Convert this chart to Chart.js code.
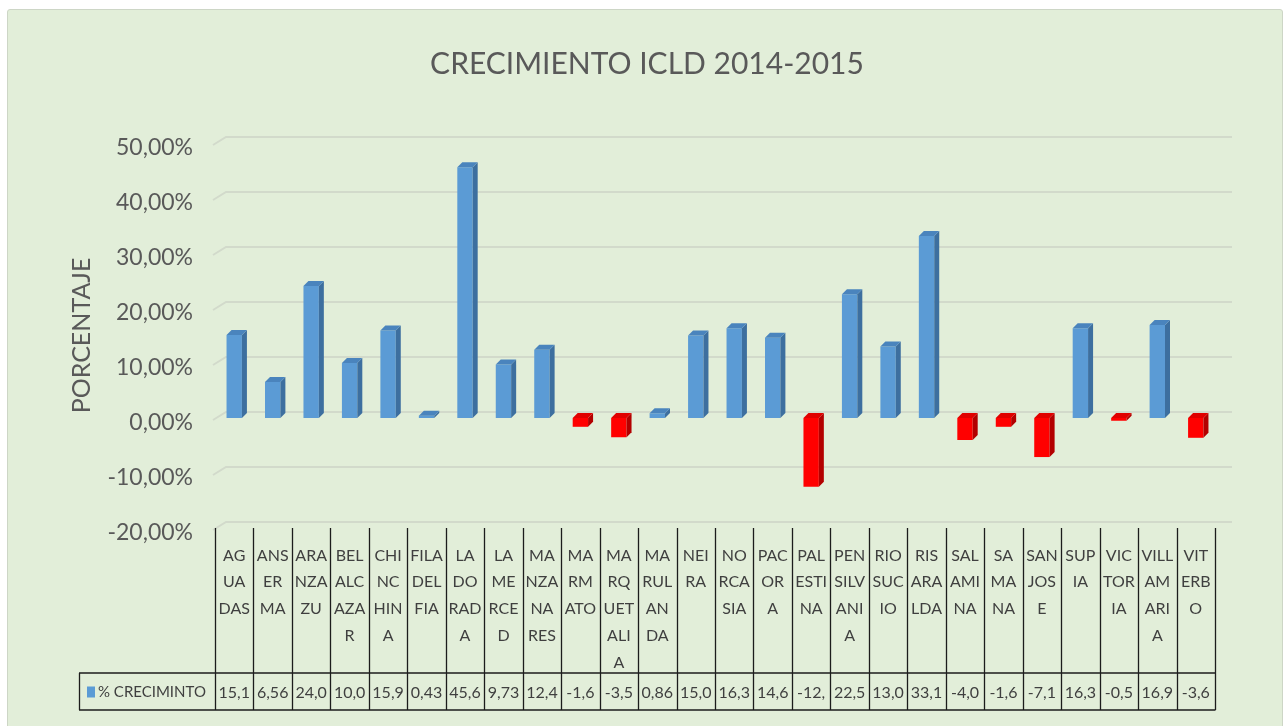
<!DOCTYPE html>
<html>
<head>
<meta charset="utf-8">
<title>Crecimiento ICLD 2014-2015</title>
<script src="https://cdn.jsdelivr.net/npm/chart.js@4.4.1/dist/chart.umd.min.js"></script>
<style>
  html, body { margin: 0; padding: 0; background: #fff; overflow: hidden; }
  #marco { position: absolute; left: 7px; top: 9px; width: 1274px; height: 720px; background: #e2eed9; border: 1px solid #cdd6c6; border-radius: 3px; }
  #grafico { position: absolute; left: 0; top: 0; }
</style>
</head>
<body>
<div id="marco"></div>
<canvas id="grafico" width="1288" height="726"></canvas>
<script>
// Municipios (nombre completo)
const categorias = ['AGUADAS', 'ANSERMA', 'ARANZAZU', 'BELALCAZAR', 'CHINCHINA', 'FILADELFIA', 'LA DORADA',
    'LA MERCED', 'MANZANARES', 'MARMATO', 'MARQUETALIA', 'MARULANDA', 'NEIRA', 'NORCASIA', 'PACORA',
    'PALESTINA', 'PENSILVANIA', 'RIOSUCIO', 'RISARALDA', 'SALAMINA', 'SAMANA', 'SANJOSE', 'SUPIA',
    'VICTORIA', 'VILLAMARIA', 'VITERBO'];

// Nombres partidos como aparecen en la tabla
const lineasCategorias = [
    ['AG', 'UA', 'DAS'], ['ANS', 'ER', 'MA'], ['ARA', 'NZA', 'ZU'], ['BEL', 'ALC', 'AZA', 'R'],
    ['CHI', 'NC', 'HIN', 'A'], ['FILA', 'DEL', 'FIA'], ['LA', 'DO', 'RAD', 'A'], ['LA', 'ME', 'RCE', 'D'],
    ['MA', 'NZA', 'NA', 'RES'], ['MA', 'RM', 'ATO'], ['MA', 'RQ', 'UET', 'ALI', 'A'], ['MA', 'RUL', 'AN', 'DA'],
    ['NEI', 'RA'], ['NO', 'RCA', 'SIA'], ['PAC', 'OR', 'A'], ['PAL', 'ESTI', 'NA'], ['PEN', 'SILV', 'ANI', 'A'],
    ['RIO', 'SUC', 'IO'], ['RIS', 'ARA', 'LDA'], ['SAL', 'AMI', 'NA'], ['SA', 'MA', 'NA'], ['SAN', 'JOS', 'E'],
    ['SUP', 'IA'], ['VIC', 'TOR', 'IA'], ['VILL', 'AM', 'ARI', 'A'], ['VIT', 'ERB', 'O']
];

// % crecimiento por municipio
const crecimiento = [15.1, 6.56, 24.0, 10.0, 15.9, 0.43, 45.6, 9.73, 12.4, -1.6, -3.5, 0.86, 15.0,
    16.3, 14.6, -12.5, 22.5, 13.0, 33.1, -4.0, -1.6, -7.1, 16.3, -0.5, 16.9, -3.6];

// Texto de la fila de valores (recortado como en la tabla original)
const etiquetasTabla = ['15,1', '6,56', '24,0', '10,0', '15,9', '0,43', '45,6', '9,73', '12,4', '-1,6',
    '-3,5', '0,86', '15,0', '16,3', '14,6', '-12,', '22,5', '13,0', '33,1', '-4,0', '-1,6', '-7,1',
    '16,3', '-0,5', '16,9', '-3,6'];

const ejeYMin = -20;
const ejeYMax = 50;
const pasoY = 10;

const FUENTE = "Lato, 'Open Sans', sans-serif";
const AZUL = '#5b9bd5';
const ROJO = '#ff0000';

// Rejilla con el pequeño efecto 3D de Excel
const rejilla3D = {
    id: 'rejilla3D',
    beforeDatasetsDraw(chart) {
        const { ctx, chartArea, scales: { y } } = chart;
        ctx.save();
        ctx.strokeStyle = '#d2dacb';
        ctx.lineWidth = 2;
        y.ticks.forEach(t => {
            const py = y.getPixelForValue(t.value) - 6;
            ctx.beginPath();
            ctx.moveTo(chartArea.left - 2, py + 8);
            ctx.lineTo(chartArea.left + 11, py);
            ctx.lineTo(chartArea.right + 17, py);
            ctx.stroke();
        });
        ctx.restore();
    }
};

// Caras laterales y superiores de las columnas
const columnas3D = {
    id: 'columnas3D',
    afterDatasetsDraw(chart) {
        const { ctx } = chart;
        const meta = chart.getDatasetMeta(0);
        const d = 5;
        ctx.save();
        meta.data.forEach((bar, i) => {
            const p = bar.getProps(['x', 'y', 'base', 'width'], true);
            const izq = p.x - p.width / 2;
            const der = p.x + p.width / 2;
            const arriba = Math.min(p.y, p.base);
            const abajo = Math.max(p.y, p.base);
            const negativo = crecimiento[i] < 0;
            // lado
            ctx.fillStyle = negativo ? '#b30000' : '#3d6f9f';
            ctx.beginPath();
            ctx.moveTo(der, arriba);
            ctx.lineTo(der + d, arriba - d);
            ctx.lineTo(der + d, abajo - d);
            ctx.lineTo(der, abajo);
            ctx.closePath();
            ctx.fill();
            // tapa
            ctx.fillStyle = negativo ? '#e00000' : '#4a84bd';
            ctx.beginPath();
            ctx.moveTo(izq, arriba);
            ctx.lineTo(izq + d, arriba - d);
            ctx.lineTo(der + d, arriba - d);
            ctx.lineTo(der, arriba);
            ctx.closePath();
            ctx.fill();
        });
        ctx.restore();
    }
};

// Tabla de datos bajo el eje
const tablaDatos = {
    id: 'tablaDatos',
    afterDraw(chart) {
        const { ctx, chartArea, scales: { x } } = chart;
        const ancho = (chartArea.right - chartArea.left) / categorias.length;
        const arriba = x.top;
        const filaArriba = arriba + 145;
        const filaAbajo = arriba + 182;
        const izquierda = 79;
        ctx.save();
        ctx.strokeStyle = '#1c1c1c';
        ctx.lineWidth = 1.3;
        ctx.beginPath();
        for (let i = 0; i <= categorias.length; i++) {
            const px = Math.round(chartArea.left + i * ancho) + 0.5;
            ctx.moveTo(px, arriba);
            ctx.lineTo(px, filaAbajo);
        }
        ctx.moveTo(izquierda, filaArriba);
        ctx.lineTo(chartArea.right + 0.5, filaArriba);
        ctx.moveTo(izquierda, filaAbajo);
        ctx.lineTo(chartArea.right + 0.5, filaAbajo);
        ctx.moveTo(izquierda + 0.5, filaArriba);
        ctx.lineTo(izquierda + 0.5, filaAbajo);
        ctx.stroke();

        const medio = (filaArriba + filaAbajo) / 2 + 1;
        // clave de la leyenda
        ctx.fillStyle = AZUL;
        ctx.fillRect(87, medio - 6, 8, 11);
        ctx.fillStyle = '#3f3f3f';
        ctx.font = '15px ' + FUENTE;
        ctx.textBaseline = 'middle';
        ctx.textAlign = 'left';
        ctx.fillText(chart.data.datasets[0].label, 98, medio);
        ctx.font = '16px ' + FUENTE;
        ctx.textAlign = 'center';
        etiquetasTabla.forEach((txt, i) => {
            ctx.fillText(txt, x.getPixelForValue(i), medio);
        });
        ctx.restore();
    }
};

const ctx = document.getElementById('grafico').getContext('2d');
const grafico = new Chart(ctx, {
    type: 'bar',
    data: {
        labels: lineasCategorias,
        datasets: [{
            label: '% CRECIMINTO',
            data: crecimiento,
            backgroundColor: crecimiento.map(v => v < 0 ? ROJO : AZUL),
            borderWidth: 0,
            barPercentage: 0.4,
            categoryPercentage: 1
        }]
    },
    options: {
        responsive: false,
        devicePixelRatio: 1,
        animation: false,
        layout: {
            padding: { left: 7, right: 1, top: 0, bottom: 0 }
        },
        plugins: {
            legend: { display: false },
            tooltip: { enabled: false },
            title: {
                display: true,
                text: 'CRECIMIENTO ICLD 2014-2015',
                color: '#595959',
                font: { family: FUENTE, size: 30, weight: 'normal' },
                padding: { top: 46, bottom: 61 }
            }
        },
        scales: {
            x: {
                grid: { display: false },
                border: { display: false },
                ticks: {
                    autoSkip: false,
                    maxRotation: 0,
                    minRotation: 0,
                    padding: 6,
                    color: '#3f3f3f',
                    font: { family: FUENTE, size: 16, lineHeight: 1.68 }
                },
                afterFit(scale) { scale.height = 198; }
            },
            y: {
                min: ejeYMin,
                max: ejeYMax,
                grid: { display: false },
                border: { display: false },
                ticks: {
                    stepSize: pasoY,
                    padding: 14,
                    labelOffset: 5,
                    color: '#595959',
                    font: { family: FUENTE, size: 23 },
                    callback: v => v.toFixed(2).replace('.', ',') + '%'
                },
                title: {
                    display: true,
                    text: 'PORCENTAJE',
                    color: '#595959',
                    font: { family: FUENTE, size: 25 },
                    padding: { top: 60, bottom: 0 }
                },
                afterFit(scale) { scale.width = 208; }
            },
            // eje vacío a la derecha: sólo reserva el margen derecho del área
            yDerecha: {
                position: 'right',
                display: true,
                grid: { display: false },
                border: { display: false },
                ticks: { display: false },
                afterFit(scale) { scale.width = 72; }
            }
        }
    },
    plugins: [rejilla3D, columnas3D, tablaDatos]
});
</script>
</body>
</html>
